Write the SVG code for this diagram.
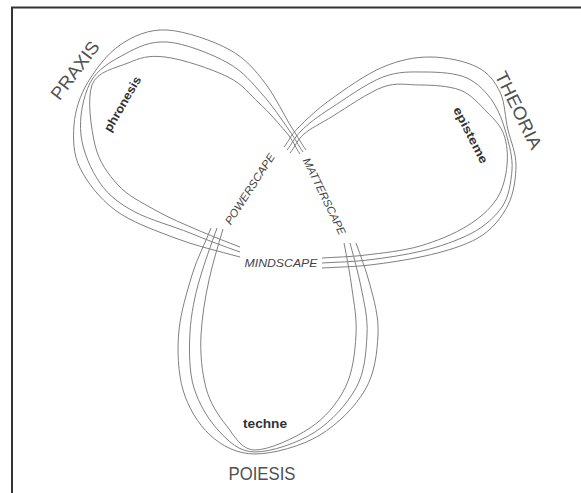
<svg xmlns="http://www.w3.org/2000/svg" width="581" height="493" viewBox="0 0 581 493">
<style>
.band{fill:none;stroke:#808080;stroke-width:1}
.big{font-family:"Liberation Sans",Arial,sans-serif;font-size:18px;fill:#505050}
.sub{font-family:"Liberation Sans",Arial,sans-serif;font-size:12px;font-weight:bold;fill:#333}
.scape{font-family:"Liberation Sans",Arial,sans-serif;font-size:11px;font-style:italic;fill:#444}
</style>
<rect x="0" y="0" width="581" height="493" fill="#fff"/>
<rect x="12" y="7.5" width="620" height="520" fill="none" stroke="#333" stroke-width="2"/>
<g id="praxis">
<path class="band" d="M240,257 C218,251 196,246 175,238 S131,222 115,210 S87,182 80,168 S73,139 74,125 S80,95 88,82 S107,54 120,45 S149,29 167,30 S214,41 230,50 S255,70 265,83 S285,117 292,128 S301,143 306,150"/>
<path class="band" d="M240,252 C223,246 207,240 190,233 S150,220 135,212 S109,196 100,183 S83,152 81,135 S83,97 90,83 S112,61 125,54 S150,41 167,42 S212,54 228,63 S252,83 262,94 S282,120 289,130 S298,145 303,152"/>
<path class="band" d="M240,247 C227,242 214,237 200,231 S169,218 155,210 S128,196 118,185 S99,162 95,145 S87,99 92,85 S116,68 128,63 S148,55 165,57 S212,69 228,77 S249,94 259,103 S279,124 286,132 S295,147 300,154"/>
<text class="big" transform="translate(80,74) rotate(-53)" text-anchor="middle" textLength="68" lengthAdjust="spacingAndGlyphs">PRAXIS</text>
<text class="sub" transform="translate(126,106) rotate(-60)" text-anchor="middle" textLength="62" lengthAdjust="spacingAndGlyphs">phronesis</text>
</g>
<g id="theoria">
<path class="band" d="M284,147 C289,141 290,136 298,128 S316,110 330,100 S366,74 383,67 S414,57 430,57 S465,61 477,67 S495,82 500,92 S505,118 508,130 S516,153 516,165 S514,193 508,205 S492,230 478,238 S443,252 425,256 S387,263 370,265 S338,267 322,268"/>
<path class="band" d="M287,150 C292,144 294,138 301,131 S317,117 331,108 S367,83 383,77 S411,72 425,72 S456,73 467,78 S487,93 493,102 S503,122 506,133 S513,158 512,170 S509,197 502,207 S485,226 472,233 S439,247 422,251 S385,258 368,260 S337,262 322,263"/>
<path class="band" d="M290,153 C295,147 297,140 304,134 S320,124 333,116 S369,92 383,87 S407,85 420,85 S449,86 460,90 S480,105 487,112 S501,126 504,135 S508,154 507,165 S503,190 496,200 S480,218 467,226 S437,241 420,246 S382,253 366,255 S337,257 322,258"/>
<text class="big" transform="translate(513,113) rotate(64)" text-anchor="middle" textLength="84" lengthAdjust="spacingAndGlyphs">THEORIA</text>
<text class="sub" transform="translate(467,137) rotate(63)" text-anchor="middle" textLength="62" lengthAdjust="spacingAndGlyphs">episteme</text>
</g>
<g id="poiesis">
<path class="band" d="M211,228 C205,244 197,258 192,275 S181,311 179,330 S178,373 183,390 S198,424 210,435 S237,454 255,454 S302,446 320,435 S355,407 365,390 S377,353 378,335 S374,300 370,285 S361,257 356,243"/>
<path class="band" d="M217,228 C211,245 205,261 200,278 S191,314 190,332 S189,372 194,388 S208,419 218,430 S239,452 255,452 S298,443 315,432 S347,404 356,388 S366,352 367,335 S364,302 361,287 S354,258 350,243"/>
<path class="band" d="M223,229 C218,246 213,262 209,280 S202,317 201,335 S202,373 206,388 S218,415 226,425 S241,450 255,450 S295,438 310,428 S337,404 345,388 S355,352 356,335 S354,304 352,289 S347,258 344,243"/>
<text class="sub" x="265" y="428" text-anchor="middle" textLength="44" lengthAdjust="spacingAndGlyphs">techne</text>
<text class="big" x="262" y="480" text-anchor="middle" textLength="67" lengthAdjust="spacingAndGlyphs">POIESIS</text>
</g>
<g id="scapes">
<text class="scape" transform="translate(253,191) rotate(-57)" text-anchor="middle" textLength="82" lengthAdjust="spacingAndGlyphs">POWERSCAPE</text>
<text class="scape" transform="translate(321,198) rotate(64)" text-anchor="middle" textLength="84" lengthAdjust="spacingAndGlyphs">MATTERSCAPE</text>
<text class="scape" x="281" y="267" text-anchor="middle" textLength="73" lengthAdjust="spacingAndGlyphs">MINDSCAPE</text>
</g>
</svg>
